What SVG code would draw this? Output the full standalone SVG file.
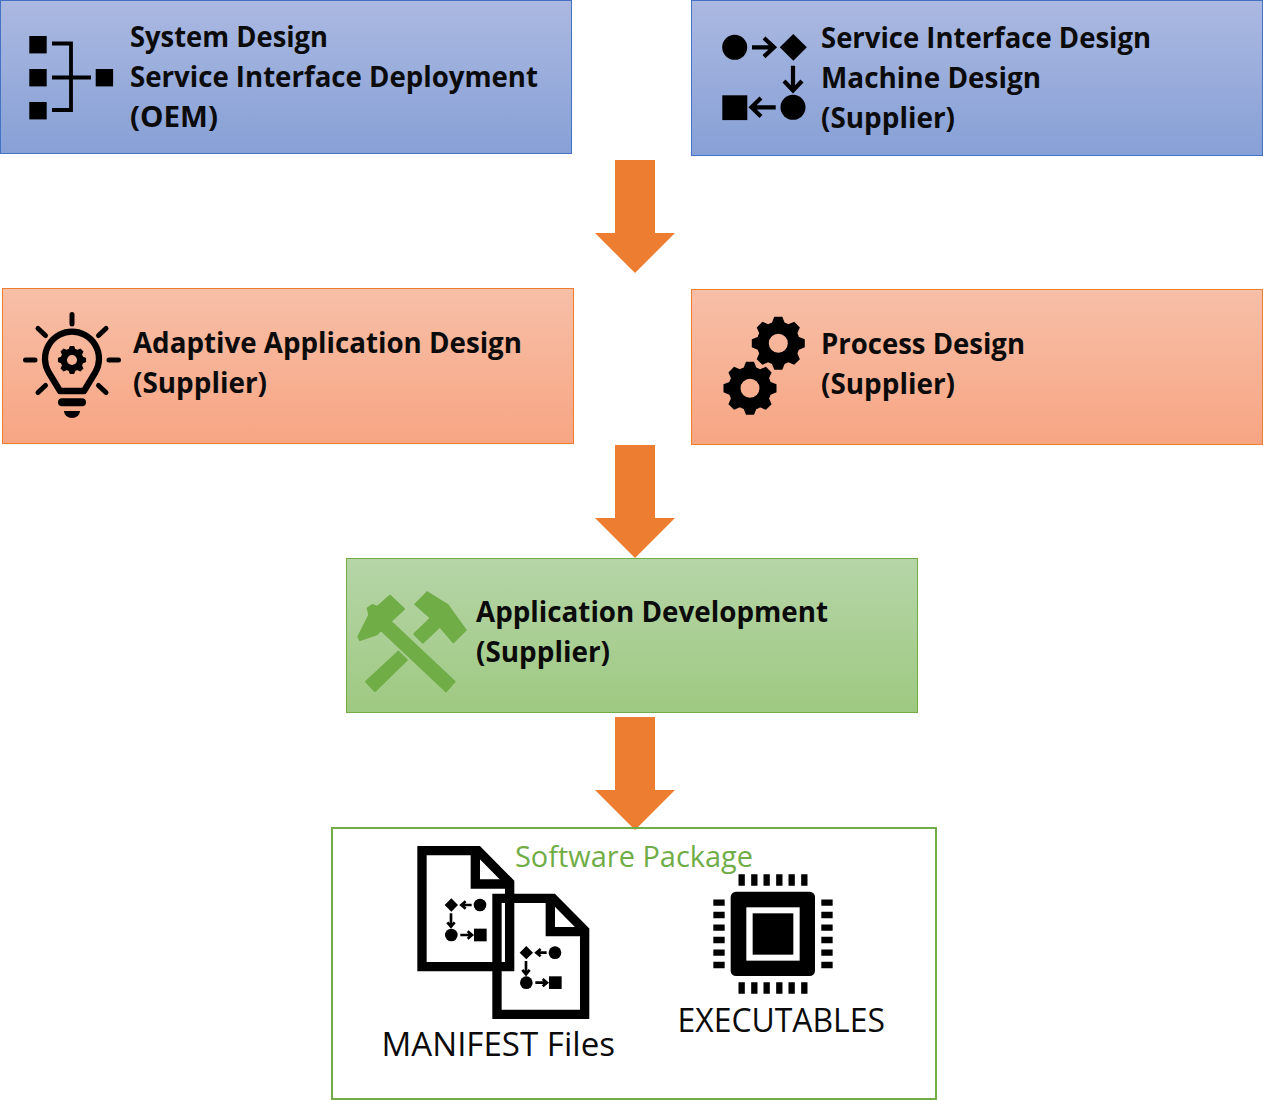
<svg xmlns="http://www.w3.org/2000/svg" xmlns:xlink="http://www.w3.org/1999/xlink" width="1263" height="1100" viewBox="0 0 1263 1100">
<style>
text{font-family:"Open Sans","Noto Sans","Liberation Sans",sans-serif}
.t{font-size:28px;font-weight:700;fill:#0b0b0b}
.g{font-size:29px;font-weight:400;fill:#70ad47}
.k{font-size:33px;font-weight:400;fill:#0b0b0b}
.blue{fill:url(#gb);stroke:#4472c4;stroke-width:1}
.orange{fill:url(#go);stroke:#ed7d31;stroke-width:1}
.green{fill:url(#gg);stroke:#70ad47;stroke-width:1}
.ln{fill:none;stroke:#000}
</style>
<defs>
<linearGradient id="gb" x1="0" y1="0" x2="0" y2="1"><stop offset="0" stop-color="#abb9e1"/><stop offset="1" stop-color="#87a0d6"/></linearGradient>
<linearGradient id="go" x1="0" y1="0" x2="0" y2="1"><stop offset="0" stop-color="#f7bfa7"/><stop offset="1" stop-color="#f7a583"/></linearGradient>
<linearGradient id="gg" x1="0" y1="0" x2="0" y2="1"><stop offset="0" stop-color="#b6d5a8"/><stop offset="1" stop-color="#9ec981"/></linearGradient>
<polygon id="bigarrow" points="-20,0 20,0 20,73 40,73 0,113 -40,73 -20,73" fill="#ed7d31"/>
<polygon id="tooth" points="-6.6,-20 -4,-26.5 4,-26.5 6.6,-20"/>
<g id="gear">
<circle r="15.5" fill="none" stroke="#000" stroke-width="12"/>
<use xlink:href="#tooth"/><use xlink:href="#tooth" transform="rotate(45)"/><use xlink:href="#tooth" transform="rotate(90)"/><use xlink:href="#tooth" transform="rotate(135)"/><use xlink:href="#tooth" transform="rotate(180)"/><use xlink:href="#tooth" transform="rotate(225)"/><use xlink:href="#tooth" transform="rotate(270)"/><use xlink:href="#tooth" transform="rotate(315)"/>
</g>
<g id="miniflow">
<polygon points="134,225 154,205 174,225 154,245"/>
<circle cx="240" cy="225" r="19"/>
<circle cx="154" cy="315" r="19"/>
<rect x="222" y="296" width="38" height="38"/>
<path class="ln" stroke-width="8" d="M215,225H184M197,214L184,225L197,236M153,250V290M142,277L153,290L164,277M181,315H216M203,304L216,315L203,326"/>
</g>
<g id="doc">
<path class="ln" stroke-width="28" d="M66,62H234L329,158V410H66Z"/>
<path class="ln" stroke-width="28" d="M226,62V162H329"/>
<use xlink:href="#miniflow"/>
</g>
</defs>

<g id="connectors">
<use xlink:href="#bigarrow" x="635" y="160"/>
<use xlink:href="#bigarrow" x="635" y="445"/>
<use xlink:href="#bigarrow" x="635" y="717"/>
</g>

<g id="node-system-design">
<rect class="blue" x="0.5" y="0.5" width="571" height="153"/>
<g fill="#000">
<rect x="29.3" y="36" width="17.4" height="17.4"/><rect x="29.3" y="69" width="17.4" height="17.4"/><rect x="29.3" y="102" width="17.4" height="17.4"/><rect x="95.7" y="69" width="17.4" height="17.4"/>
</g>
<path class="ln" stroke-width="3.8" d="M52,43.5H71V110H52M52,77.5H91"/>
<text class="t" x="130" y="47" textLength="198" lengthAdjust="spacingAndGlyphs">System Design</text>
<text class="t" x="130" y="87" textLength="408" lengthAdjust="spacingAndGlyphs">Service Interface Deployment</text>
<text class="t" x="130" y="127" textLength="88" lengthAdjust="spacingAndGlyphs">(OEM)</text>
</g>

<g id="node-service-interface-design">
<rect class="blue" x="691.5" y="0.5" width="571" height="155"/>
<circle cx="734.7" cy="47.3" r="12.5"/>
<polygon points="793.3,34 806.8,47.3 793.3,60.8 779.8,47.3"/>
<circle cx="793" cy="107.3" r="12.5"/>
<rect x="722.3" y="95.3" width="25" height="24.8"/>
<path class="ln" stroke-width="4.2" d="M752,47.3H774M764,38L774,47.3L764,56.6M793,65.7V90.5M784,81L793,90.5L802,81M775.7,107.3H751.5M761,98L751.5,107.3L761,116.6"/>
<text class="t" x="821" y="48" textLength="330" lengthAdjust="spacingAndGlyphs">Service Interface Design</text>
<text class="t" x="821" y="88" textLength="220" lengthAdjust="spacingAndGlyphs">Machine Design</text>
<text class="t" x="821" y="128" textLength="134" lengthAdjust="spacingAndGlyphs">(Supplier)</text>
</g>

<g id="node-adaptive-application-design">
<rect class="orange" x="2.5" y="288.5" width="571" height="155"/>
<path class="ln" stroke-width="6.3" stroke-linejoin="round" d="M60,391L48.5,372A27,27 0 1 1 95.5,372L84,391Z"/>
<path class="ln" stroke-width="8" stroke-linecap="round" d="M62,402.3H82"/>
<path d="M64,411H80A8,7 0 0 1 64,411Z"/>
<path class="ln" stroke-width="5" stroke-linecap="round" d="M72,314.5V324M25.5,360H35M109,360H118.5M38,328.5L45.5,335.5M106,328.5L98.5,335.5M38,392.5L45.5,385.5M106,392.5L98.5,385.5"/>
<use xlink:href="#gear" transform="translate(72 360) scale(.53)"/>
<text class="t" x="133" y="353" textLength="389" lengthAdjust="spacingAndGlyphs">Adaptive Application Design</text>
<text class="t" x="133" y="393" textLength="134" lengthAdjust="spacingAndGlyphs">(Supplier)</text>
</g>

<g id="node-process-design">
<rect class="orange" x="691.5" y="289.5" width="571" height="155"/>
<use xlink:href="#gear" transform="translate(778.3 343.3)"/>
<use xlink:href="#gear" transform="translate(750 388.3)"/>
<text class="t" x="821" y="354" textLength="204" lengthAdjust="spacingAndGlyphs">Process Design</text>
<text class="t" x="821" y="394" textLength="134" lengthAdjust="spacingAndGlyphs">(Supplier)</text>
</g>

<g id="node-application-development">
<rect class="green" x="346.5" y="558.5" width="571" height="154"/>
<g transform="translate(340 555) scale(.3333)" fill="#70ad47" stroke="#70ad47" stroke-width="6" stroke-linejoin="round">
<polygon points="150,122 192,162 110,238 60,255 55,245 88,180 83,160 97,150 112,156"/>
<polygon points="148,196 344,380 318,409 122,224"/>
<polygon points="262,112 323,150 377,225 340,262 300,215 272,188 226,148"/>
<polygon points="272,190 298,216 248,263 223,237"/>
<polygon points="175,290 200,315 105,408 78,380"/>
</g>
<text class="t" x="476" y="622" textLength="352" lengthAdjust="spacingAndGlyphs">Application Development</text>
<text class="t" x="476" y="662" textLength="134" lengthAdjust="spacingAndGlyphs">(Supplier)</text>
</g>

<g id="node-software-package">
<rect x="332" y="828" width="604" height="271" fill="none" stroke="#70ad47" stroke-width="2"/>
<text class="g" x="515" y="867" textLength="238" lengthAdjust="spacingAndGlyphs">Software Package</text>
<g id="manifest-icon" transform="translate(400 830) scale(.3333)">
<use xlink:href="#doc"/>
<use xlink:href="#doc" x="225" y="143"/>
</g>
<text class="k" x="381.5" y="1056" textLength="233.5" lengthAdjust="spacingAndGlyphs">MANIFEST Files</text>
<g id="chip-icon" transform="translate(690 860) scale(.3333)">
<rect x="122" y="95" width="253" height="253" rx="16"/>
<rect x="169" y="142" width="160" height="160" fill="#fff"/>
<rect x="188" y="160" width="122" height="124"/>
<path class="ln" stroke-width="19" d="M155,43V77M193,43V77M230,43V77M268,43V77M305,43V77M343,43V77M155,367V401M193,367V401M230,367V401M268,367V401M305,367V401M343,367V401M70,128H104M70,165H104M70,203H104M70,240H104M70,278H104M70,315H104M394,128H428M394,165H428M394,203H428M394,240H428M394,278H428M394,315H428"/>
</g>
<text class="k" x="677.5" y="1032" textLength="207.5" lengthAdjust="spacingAndGlyphs">EXECUTABLES</text>
</g>
</svg>
